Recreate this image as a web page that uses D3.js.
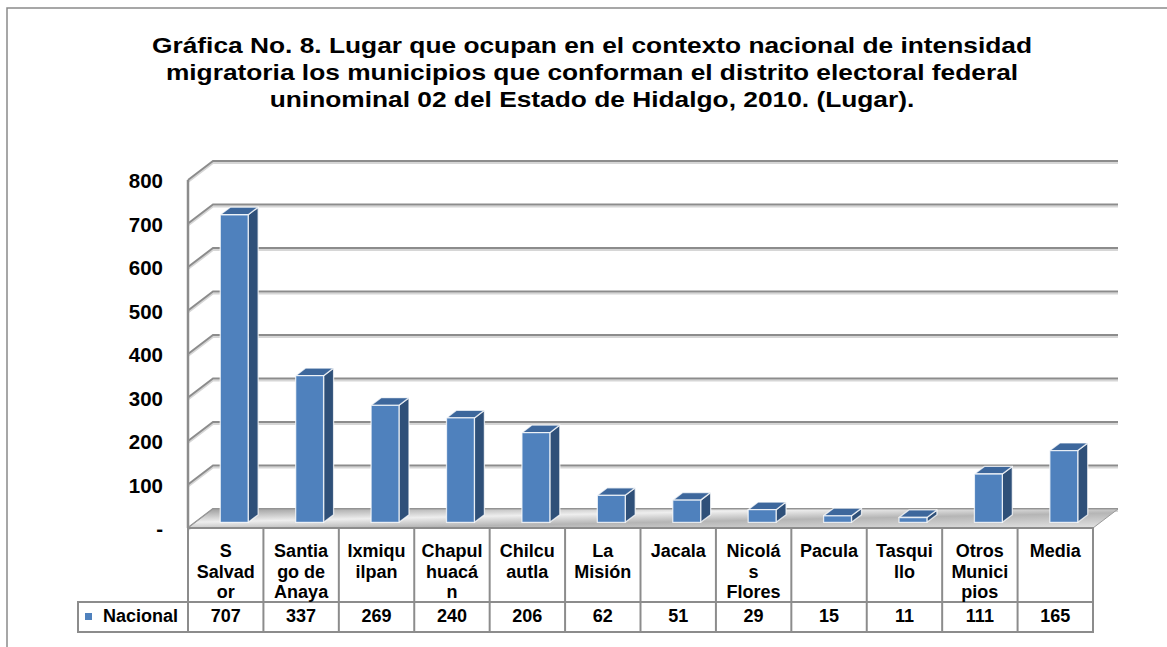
<!DOCTYPE html>
<html>
  <head>
    <meta charset="utf-8">
    <title>Gráfica No. 8</title>
    <script src="https://cdn.jsdelivr.net/npm/d3@7"></script>
    <style>
      body { margin: 0; background: #fff; }
      svg text { font-family: "Liberation Sans", Arial, sans-serif; font-weight: bold; fill: #000; }
    </style>
  </head>
  <body>
    <svg id="chart" width="1167" height="647"></svg>
    <script>
      // data
      var titleLines = [
        "Gráfica No. 8. Lugar que ocupan en el contexto nacional de intensidad",
        "migratoria los municipios que conforman el distrito electoral federal",
        "uninominal 02 del Estado de Hidalgo, 2010. (Lugar)."
      ];
      var categories = ["S Salvador", "Santiago de Anaya", "Ixmiquilpan", "Chapulhuacán", "Chilcuautla",
        "La Misión", "Jacala", "Nicolás Flores", "Pacula", "Tasquillo", "Otros Municipios", "Media"];
      // how the names are broken inside the table cells
      var categoryLines = [["S", "Salvad", "or"], ["Santia", "go de", "Anaya"], ["Ixmiqu", "ilpan"],
        ["Chapul", "huacá", "n"], ["Chilcu", "autla"], ["La", "Misión"], ["Jacala"],
        ["Nicolá", "s", "Flores"], ["Pacula"], ["Tasqui", "llo"], ["Otros", "Munici", "pios"], ["Media"]];
      var seriesName = "Nacional";
      var nacional = [707, 337, 269, 240, 206, 62, 51, 29, 15, 11, 111, 165];
      var yTicks = [0, 100, 200, 300, 400, 500, 600, 700, 800];
      var yTickLabels = ["-", "100", "200", "300", "400", "500", "600", "700", "800"];

      var svg = d3.select("#chart");

      // depth of the 3d box (back wall offset)
      var DX = 25, DY = -19;
      var left = 188, right = 1093, floorY = 528;

      var x = d3.scaleBand().domain(categories).range([left, right]);
      var y = d3.scaleLinear().domain([0, 800]).range([floorY, 180]);

      // point in the box: px front x, value v, depth z (0 front, 1 back)
      function P(px, v, z) { return [px + DX * z, y(v) + DY * z]; }
      var line = d3.line();

      var defs = svg.append("defs");
      var fg = defs.append("linearGradient").attr("id", "floorGrad")
        .attr("x1", 0).attr("y1", 0).attr("x2", 1).attr("y2", 1);
      fg.append("stop").attr("offset", "0%").attr("stop-color", "#9b9b9b");
      fg.append("stop").attr("offset", "35%").attr("stop-color", "#eeeeee");
      fg.append("stop").attr("offset", "60%").attr("stop-color", "#b5b5b5");
      fg.append("stop").attr("offset", "100%").attr("stop-color", "#e4e4e4");

      // outer frame
      svg.append("path")
        .attr("d", "M7,647 V8 H1167")
        .attr("fill", "none").attr("stroke", "#8a8a8a").attr("stroke-width", 1.5);

      // title (the original picture is a bit stretched sideways)
      svg.append("g")
        .attr("transform", "translate(592,0) scale(1.17,1)")
        .selectAll("text")
        .data(titleLines)
        .enter().append("text")
          .attr("x", 0)
          .attr("y", function (d, i) { return 53 + i * 27; })
          .attr("text-anchor", "middle")
          .style("font-size", "22.5px")
          .text(function (d) { return d; });

      // gridlines: side wall diagonal + back wall
      var grid = svg.append("g");
      yTicks.forEach(function (t) {
        var pts = [P(left, t, 0), P(left, t, 1), P(right, t, 1)];
        grid.append("path")
          .attr("d", line(pts.map(function (p) { return [p[0], p[1] + 2]; })))
          .attr("fill", "none").attr("stroke", "#d6d6d6").attr("stroke-width", 2);
        grid.append("path")
          .attr("d", line(pts))
          .attr("fill", "none").attr("stroke", "#8c8c8c").attr("stroke-width", 2);
      });
      // front edge of side wall
      grid.append("path")
        .attr("d", line([P(left, 800, 0), P(left, 0, 0)]))
        .attr("stroke", "#8c8c8c").attr("stroke-width", 2.5);

      // floor
      svg.append("path")
        .attr("d", line([P(left, 0, 0), P(left, 0, 1), P(right, 0, 1), P(right, 0, 0)]) + "Z")
        .attr("fill", "url(#floorGrad)")
        .attr("stroke", "#9a9a9a").attr("stroke-width", 1);

      // y labels
      svg.append("g").selectAll("text")
        .data(yTicks)
        .enter().append("text")
          .attr("x", 163)
          .attr("y", function (d) { return y(d) + 8; })
          .attr("text-anchor", "end")
          .style("font-size", "20.5px")
          .text(function (d, i) { return yTickLabels[i]; });

      // bars
      var bw = x.bandwidth() * 0.37, z0 = 0.3, z1 = 0.7;
      var bars = svg.append("g").selectAll("g")
        .data(nacional)
        .enter().append("g");
      bars.each(function (v, i) {
        var g = d3.select(this);
        var x0 = x(categories[i]) + (x.bandwidth() - bw) / 2 + 1, x1 = x0 + bw;
        var side = [P(x1, 0, z0), P(x1, 0, z1), P(x1, v, z1), P(x1, v, z0)];
        var top = [P(x0, v, z0), P(x0, v, z1), P(x1, v, z1), P(x1, v, z0)];
        var front = [P(x0, 0, z0), P(x0, v, z0), P(x1, v, z0), P(x1, 0, z0)];
        g.append("path").attr("d", line(side) + "Z").attr("fill", "#2f5079");
        g.append("path").attr("d", line(top) + "Z").attr("fill", "#3d679c");
        g.append("path").attr("d", line(front) + "Z").attr("fill", "#4f81bd");
        g.selectAll("path")
          .attr("stroke", "#ffffff").attr("stroke-width", 1.3).attr("stroke-opacity", 0.75)
          .attr("stroke-linejoin", "round");
      });

      // data table
      var table = svg.append("g");
      var rowTop = floorY, rowMid = 602, rowBot = 632, keyLeft = 78;
      var tableStroke = "#8c8c8c";
      table.append("path")
        .attr("d", "M" + left + "," + rowTop + "H" + right + "V" + rowBot + "H" + keyLeft + "V" + rowMid + "H" + right)
        .attr("fill", "none").attr("stroke", tableStroke).attr("stroke-width", 2);
      x.domain().forEach(function (c) {
        table.append("line")
          .attr("x1", x(c)).attr("x2", x(c)).attr("y1", rowTop).attr("y2", rowBot)
          .attr("stroke", tableStroke).attr("stroke-width", 2);
      });

      categories.forEach(function (c, i) {
        var t = table.append("text")
          .attr("text-anchor", "middle")
          .style("font-size", "18px");
        categoryLines[i].forEach(function (l, j) {
          t.append("tspan")
            .attr("x", x(c) + x.bandwidth() / 2)
            .attr("y", 557 + j * 20.5)
            .text(l);
        });
        table.append("text")
          .attr("x", x(c) + x.bandwidth() / 2)
          .attr("y", 622)
          .attr("text-anchor", "middle")
          .style("font-size", "18px")
          .text(nacional[i]);
      });

      table.append("rect")
        .attr("x", 85).attr("y", 613).attr("width", 7).attr("height", 7)
        .attr("fill", "#4f81bd");
      table.append("text")
        .attr("x", 103).attr("y", 622)
        .style("font-size", "18px")
        .text(seriesName);
    </script>
  </body>
</html>
